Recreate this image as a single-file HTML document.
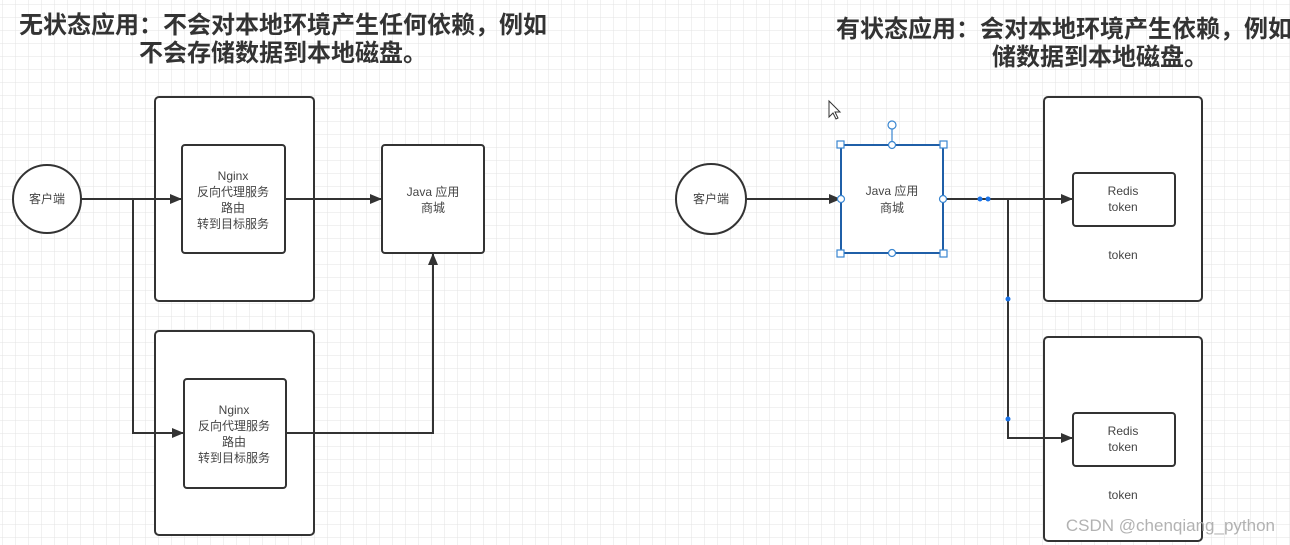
<!DOCTYPE html>
<html><head><meta charset="utf-8"><style>
html,body{margin:0;padding:0;background:#fff;}
svg{display:block;}
text{font-family:"Liberation Sans","Noto Sans CJK SC",sans-serif;}
</style></head><body>
<svg width="1290" height="545" viewBox="0 0 1290 545" xmlns="http://www.w3.org/2000/svg">
<defs>
<pattern id="g" width="13" height="13" patternUnits="userSpaceOnUse" x="3" y="5">
<path d="M13 0V13M0 13H13" fill="none" stroke="#e3e3e3" stroke-width="1"/>
</pattern>
<marker id="a" markerWidth="12" markerHeight="10" refX="11" refY="5" orient="auto" markerUnits="userSpaceOnUse">
<path d="M0 0L12 5L0 10Z" fill="#333"/>
</marker>
</defs>
<rect width="1290" height="545" fill="#fff"/>
<rect width="1290" height="545" fill="url(#g)"/>
<g font-weight="bold" font-size="24" fill="#333">
<text x="19" y="33">无状态应用：不会对本地环境产生任何依赖，例如</text>
<text x="139" y="61">不会存储数据到本地磁盘。</text>
<text x="836" y="37">有状态应用：会对本地环境产生依赖，例如</text>
<text x="992" y="65">储数据到本地磁盘。</text>
</g>
<g fill="#fff" stroke="#333" stroke-width="2">
<circle cx="47" cy="199" r="34"/>
<rect x="155" y="97" width="159" height="204" rx="4"/>
<rect x="182" y="145" width="103" height="108" rx="3"/>
<rect x="382" y="145" width="102" height="108" rx="3"/>
<rect x="155" y="331" width="159" height="204" rx="4"/>
<rect x="184" y="379" width="102" height="109" rx="3"/>
<circle cx="711" cy="199" r="35"/>
<rect x="1044" y="97" width="158" height="204" rx="4"/>
<rect x="1073" y="173" width="102" height="53" rx="3"/>
<rect x="1044" y="337" width="158" height="204" rx="4"/>
<rect x="1073" y="413" width="102" height="53" rx="3"/>
</g>
<g fill="none" stroke="#333" stroke-width="2">
<path d="M81 199H181" marker-end="url(#a)"/>
<path d="M133 199V433H183" marker-end="url(#a)"/>
<path d="M285 199H381" marker-end="url(#a)"/>
<path d="M286 433H433V254" marker-end="url(#a)"/>
<path d="M746 199H840" marker-end="url(#a)"/>
<path d="M943 199H1072" marker-end="url(#a)"/>
<path d="M1008 199V438H1072" marker-end="url(#a)"/>
</g>
<rect x="841" y="145" width="102" height="108" fill="#fff" stroke="#1f5fa8" stroke-width="2"/>
<g fill="#fff" stroke="#3a86d0" stroke-width="1.2">
<line x1="892" y1="125" x2="892" y2="145"/>
<circle cx="892" cy="125" r="4"/>
<circle cx="892" cy="145" r="3.5"/><circle cx="892" cy="253" r="3.5"/>
<circle cx="841" cy="199" r="3.5"/><circle cx="943" cy="199" r="3.5"/>
<rect x="837" y="141" width="7" height="7"/><rect x="940" y="141" width="7" height="7"/>
<rect x="837" y="250" width="7" height="7"/><rect x="940" y="250" width="7" height="7"/>
</g>
<g fill="#1a73e8"><circle cx="980" cy="199" r="2.5"/><circle cx="988" cy="199" r="2.5"/>
<circle cx="1008" cy="299" r="2.5"/><circle cx="1008" cy="419" r="2.5"/></g>
<path d="M829 101v16l4-4 3 6 2-1-3-6h5z" fill="#fff" stroke="#333" stroke-width="1"/>
<g font-size="12" fill="#444" text-anchor="middle">
<text x="47" y="203">客户端</text>
<text x="233" y="180">Nginx</text><text x="233" y="196">反向代理服务</text><text x="233" y="212">路由</text><text x="233" y="228">转到目标服务</text>
<text x="234" y="414">Nginx</text><text x="234" y="430">反向代理服务</text><text x="234" y="446">路由</text><text x="234" y="462">转到目标服务</text>
<text x="433" y="196">Java 应用</text><text x="433" y="212">商城</text>
<text x="711" y="203">客户端</text>
<text x="892" y="195">Java 应用</text><text x="892" y="212">商城</text>
<text x="1123" y="195">Redis</text><text x="1123" y="211">token</text>
<text x="1123" y="259">token</text>
<text x="1123" y="435">Redis</text><text x="1123" y="451">token</text>
<text x="1123" y="499">token</text>
</g>
<text x="1275" y="531" font-size="17" fill="#aaa" text-anchor="end" opacity="0.9">CSDN @chenqiang_python</text>
</svg>
</body></html>
